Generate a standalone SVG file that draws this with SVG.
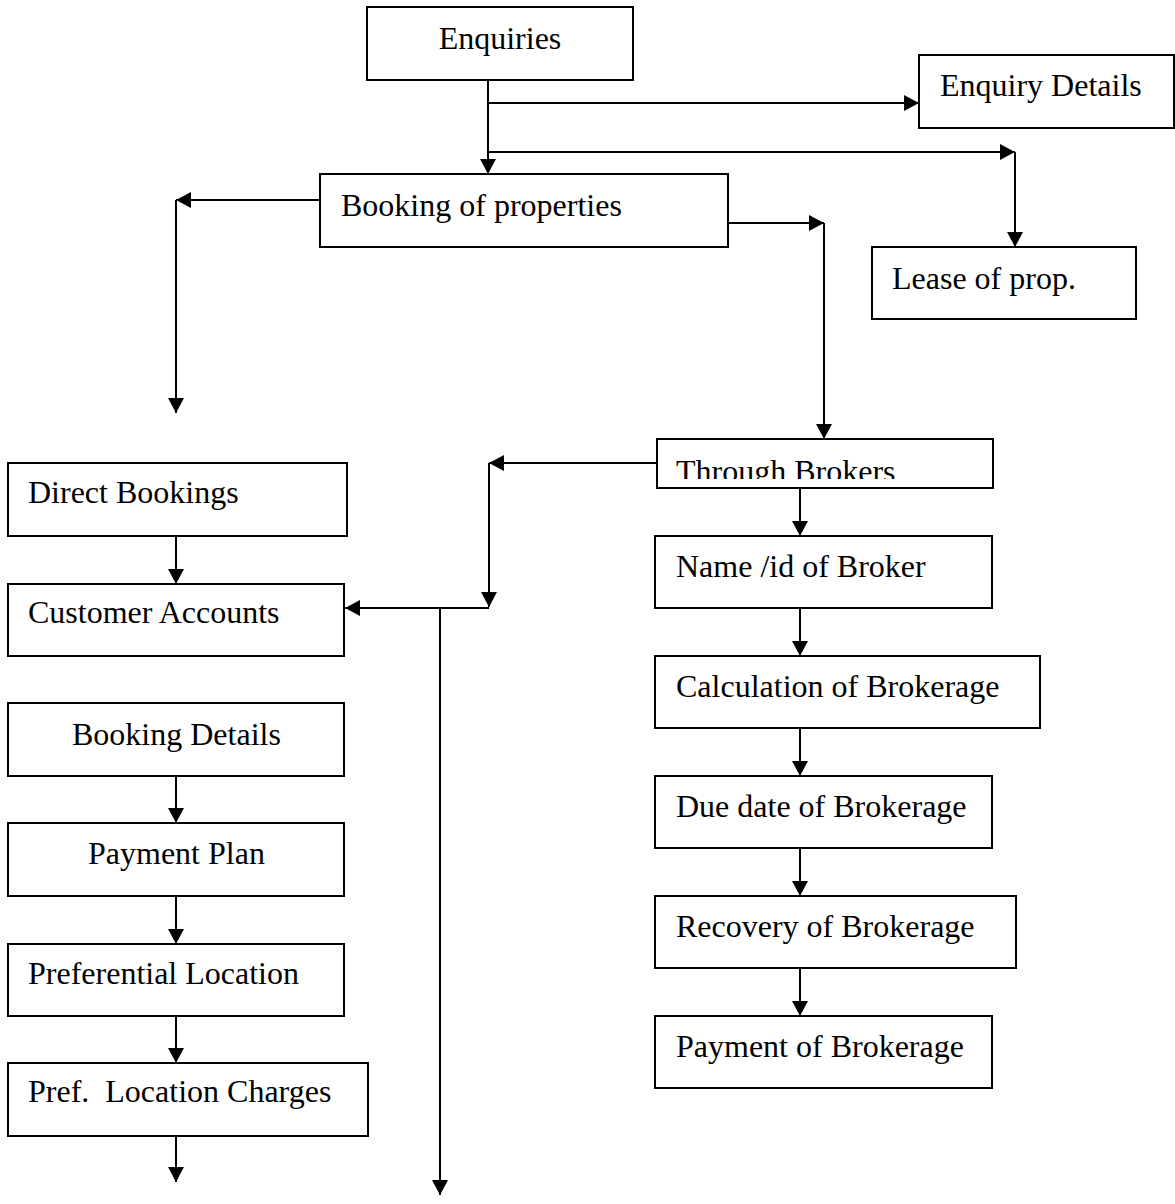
<svg xmlns="http://www.w3.org/2000/svg" width="1175" height="1204" viewBox="0 0 1175 1204">
<style>
.box{fill:#fff;stroke:#000;stroke-width:2}
.t{font-family:"Liberation Serif","Times New Roman",serif;font-size:32px;fill:#000;white-space:pre}
.c{fill:none;stroke:#000;stroke-width:2}
</style>
<defs>
<marker id="ah" markerUnits="userSpaceOnUse" markerWidth="16" markerHeight="16" refX="15" refY="8" orient="auto" viewBox="0 0 16 16">
<path d="M0,0 L15,8 L0,16 z" fill="#000"/>
</marker>
<clipPath id="tbclip"><rect x="657" y="439" width="336" height="40"/></clipPath>
</defs>
<rect width="1175" height="1204" fill="#fff"/>
<g id="connectors">
<path class="c" d="M488,80 V174" marker-end="url(#ah)"/>
<path class="c" d="M488,103 H919" marker-end="url(#ah)"/>
<path class="c" d="M488,152 H1015" marker-end="url(#ah)"/>
<path class="c" d="M1015,152 V247" marker-end="url(#ah)"/>
<path class="c" d="M320,200 H176" marker-end="url(#ah)"/>
<path class="c" d="M176,200 V413" marker-end="url(#ah)"/>
<path class="c" d="M728,223 H824" marker-end="url(#ah)"/>
<path class="c" d="M824,223 V439" marker-end="url(#ah)"/>
<path class="c" d="M657,463 H489" marker-end="url(#ah)"/>
<path class="c" d="M489,463 V607" marker-end="url(#ah)"/>
<path class="c" d="M489,608 H345" marker-end="url(#ah)"/>
<path class="c" d="M440,608 V1195" marker-end="url(#ah)"/>
<path class="c" d="M800,488 V536" marker-end="url(#ah)"/>
<path class="c" d="M800,608 V656" marker-end="url(#ah)"/>
<path class="c" d="M800,728 V776" marker-end="url(#ah)"/>
<path class="c" d="M800,848 V896" marker-end="url(#ah)"/>
<path class="c" d="M800,968 V1016" marker-end="url(#ah)"/>
<path class="c" d="M176,536 V584" marker-end="url(#ah)"/>
<path class="c" d="M176,776 V823" marker-end="url(#ah)"/>
<path class="c" d="M176,896 V944" marker-end="url(#ah)"/>
<path class="c" d="M176,1016 V1063" marker-end="url(#ah)"/>
<path class="c" d="M176,1136 V1182" marker-end="url(#ah)"/>
</g>
<g id="enquiries"><rect class="box" x="367" y="7" width="266" height="73"/><text class="t" x="500" y="49" text-anchor="middle">Enquiries</text></g>
<g id="enquiry-details"><rect class="box" x="919" y="55" width="255" height="73"/><text class="t" x="940" y="96">Enquiry Details</text></g>
<g id="booking-of-properties"><rect class="box" x="320" y="174" width="408" height="73"/><text class="t" x="341" y="216">Booking of properties</text></g>
<g id="lease-of-prop"><rect class="box" x="872" y="247" width="264" height="72"/><text class="t" x="892" y="289">Lease of prop.</text></g>
<g id="through-brokers"><rect class="box" x="657" y="439" width="336" height="49"/><text class="t" x="676" y="482" clip-path="url(#tbclip)">Through Brokers</text></g>
<g id="direct-bookings"><rect class="box" x="8" y="463" width="339" height="73"/><text class="t" x="28" y="503">Direct Bookings</text></g>
<g id="customer-accounts"><rect class="box" x="8" y="584" width="336" height="72"/><text class="t" x="28" y="623">Customer Accounts</text></g>
<g id="booking-details"><rect class="box" x="8" y="703" width="336" height="73"/><text class="t" x="72" y="745">Booking Details</text></g>
<g id="payment-plan"><rect class="box" x="8" y="823" width="336" height="73"/><text class="t" x="88" y="864">Payment Plan</text></g>
<g id="preferential-location"><rect class="box" x="8" y="944" width="336" height="72"/><text class="t" x="28" y="984">Preferential Location</text></g>
<g id="pref-location-charges"><rect class="box" x="8" y="1063" width="360" height="73"/><text class="t" x="28" y="1102">Pref.  Location Charges</text></g>
<g id="name-id-of-broker"><rect class="box" x="655" y="536" width="337" height="72"/><text class="t" x="676" y="577">Name /id of Broker</text></g>
<g id="calculation-of-brokerage"><rect class="box" x="655" y="656" width="385" height="72"/><text class="t" x="676" y="697">Calculation of Brokerage</text></g>
<g id="due-date-of-brokerage"><rect class="box" x="655" y="776" width="337" height="72"/><text class="t" x="676" y="817">Due date of Brokerage</text></g>
<g id="recovery-of-brokerage"><rect class="box" x="655" y="896" width="361" height="72"/><text class="t" x="676" y="937">Recovery of Brokerage</text></g>
<g id="payment-of-brokerage"><rect class="box" x="655" y="1016" width="337" height="72"/><text class="t" x="676" y="1057">Payment of Brokerage</text></g>
</svg>
